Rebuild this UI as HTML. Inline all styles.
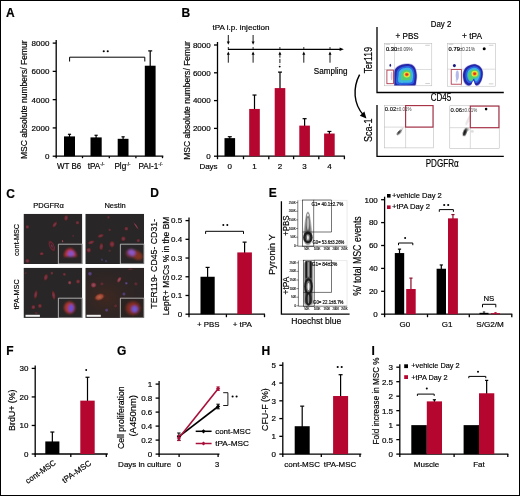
<!DOCTYPE html>
<html><head><meta charset="utf-8"><title>Figure</title>
<style>
html,body{margin:0;padding:0;background:#fff;}
svg{display:block;font-family:"Liberation Sans",sans-serif;}
</style></head><body>
<svg width="520" height="496" viewBox="0 0 520 496">
<defs>
<radialGradient id="blob" cx="0.52" cy="0.42" r="0.55">
<stop offset="0" stop-color="#e8302a"/><stop offset="0.12" stop-color="#f5a020"/><stop offset="0.24" stop-color="#e8e838"/>
<stop offset="0.38" stop-color="#5ed060"/><stop offset="0.55" stop-color="#38b8d0"/><stop offset="0.72" stop-color="#2a58d8"/><stop offset="0.9" stop-color="#2222a8"/><stop offset="1" stop-color="#2a2ab0" stop-opacity="0.6"/>
</radialGradient>
<radialGradient id="cr"><stop offset="0" stop-color="#84487a"/><stop offset="0.5" stop-color="#982a30"/><stop offset="1" stop-color="#601a1c" stop-opacity="0"/></radialGradient>
<radialGradient id="cp"><stop offset="0" stop-color="#a86080"/><stop offset="0.55" stop-color="#983844"/><stop offset="1" stop-color="#602024" stop-opacity="0"/></radialGradient>
<radialGradient id="co"><stop offset="0" stop-color="#c87058"/><stop offset="0.55" stop-color="#b04c34"/><stop offset="1" stop-color="#70281c" stop-opacity="0"/></radialGradient>
<radialGradient id="cb"><stop offset="0" stop-color="#7060b8"/><stop offset="0.55" stop-color="#5c4490"/><stop offset="1" stop-color="#402850" stop-opacity="0"/></radialGradient>
<radialGradient id="cd"><stop offset="0" stop-color="#7a4458"/><stop offset="0.35" stop-color="#4a2030"/><stop offset="0.7" stop-color="#7c2634"/><stop offset="1" stop-color="#601c28" stop-opacity="0"/></radialGradient>
<radialGradient id="bigr"><stop offset="0" stop-color="#c03a48"/><stop offset="0.7" stop-color="#b03040"/><stop offset="1" stop-color="#7a2430" stop-opacity="0.3"/></radialGradient>
<radialGradient id="bigp"><stop offset="0" stop-color="#b04a58"/><stop offset="0.7" stop-color="#a84050"/><stop offset="1" stop-color="#6a2830" stop-opacity="0.2"/></radialGradient>
<radialGradient id="bigo"><stop offset="0" stop-color="#c85a30"/><stop offset="0.7" stop-color="#b84828"/><stop offset="1" stop-color="#7a3018" stop-opacity="0.3"/></radialGradient>
<radialGradient id="nuc"><stop offset="0" stop-color="#7a6ae8"/><stop offset="0.7" stop-color="#6a58d0"/><stop offset="1" stop-color="#6a48a8" stop-opacity="0.5"/></radialGradient>
<radialGradient id="haze" cx="0.35" cy="0.6" r="0.7"><stop offset="0" stop-color="#5a2a18"/><stop offset="1" stop-color="#2a2829" stop-opacity="0"/></radialGradient>
<filter id="noop" x="0" y="0" width="520" height="496" filterUnits="userSpaceOnUse"><feOffset dx="0" dy="0"/></filter>
<filter id="soft" x="-20%" y="-20%" width="140%" height="140%"><feGaussianBlur stdDeviation="0.35"/></filter>
<filter id="soft3" x="-30%" y="-30%" width="160%" height="160%"><feGaussianBlur stdDeviation="0.8"/></filter>
<filter id="soft2" x="-30%" y="-30%" width="160%" height="160%"><feGaussianBlur stdDeviation="0.6"/></filter>
<clipPath id="clip0"><rect x="23.5" y="213.8" width="58.8" height="50.2"/></clipPath><clipPath id="clip1"><rect x="85.3" y="213.8" width="58.8" height="50.2"/></clipPath><clipPath id="clip2"><rect x="23.5" y="267.7" width="58.8" height="50.2"/></clipPath><clipPath id="clip3"><rect x="85.3" y="267.7" width="58.8" height="50.2"/></clipPath>
</defs>
<rect x="0" y="0" width="520" height="496" fill="#fff"/>
<line x1="56.20" y1="40.10" x2="56.20" y2="156.70" stroke="#000" stroke-width="1.3" />
<line x1="52.70" y1="156.20" x2="56.20" y2="156.20" stroke="#000" stroke-width="1.3" />
<line x1="52.70" y1="127.92" x2="56.20" y2="127.92" stroke="#000" stroke-width="1.3" />
<line x1="52.70" y1="99.65" x2="56.20" y2="99.65" stroke="#000" stroke-width="1.3" />
<line x1="52.70" y1="71.38" x2="56.20" y2="71.38" stroke="#000" stroke-width="1.3" />
<line x1="52.70" y1="43.10" x2="56.20" y2="43.10" stroke="#000" stroke-width="1.3" />
<line x1="55.70" y1="156.20" x2="163.30" y2="156.20" stroke="#000" stroke-width="1.3" />
<line x1="56.20" y1="156.20" x2="56.20" y2="158.20" stroke="#000" stroke-width="1.3" />
<line x1="82.50" y1="156.20" x2="82.50" y2="158.20" stroke="#000" stroke-width="1.3" />
<line x1="109.30" y1="156.20" x2="109.30" y2="158.20" stroke="#000" stroke-width="1.3" />
<line x1="135.90" y1="156.20" x2="135.90" y2="158.20" stroke="#000" stroke-width="1.3" />
<line x1="162.50" y1="156.20" x2="162.50" y2="158.20" stroke="#000" stroke-width="1.3" />
<line x1="69.50" y1="134.29" x2="69.50" y2="137.41" stroke="#000" stroke-width="1.2" />
<line x1="67.90" y1="134.29" x2="71.10" y2="134.29" stroke="#000" stroke-width="1.2" />
<rect x="64.00" y="136.41" width="11.00" height="19.79" fill="#000" stroke="none" stroke-width="0" />
<line x1="96.10" y1="135.28" x2="96.10" y2="138.40" stroke="#000" stroke-width="1.2" />
<line x1="94.50" y1="135.28" x2="97.70" y2="135.28" stroke="#000" stroke-width="1.2" />
<rect x="90.50" y="137.40" width="11.20" height="18.80" fill="#000" stroke="none" stroke-width="0" />
<line x1="123.10" y1="136.83" x2="123.10" y2="139.81" stroke="#000" stroke-width="1.2" />
<line x1="121.50" y1="136.83" x2="124.70" y2="136.83" stroke="#000" stroke-width="1.2" />
<rect x="117.70" y="138.81" width="10.80" height="17.39" fill="#000" stroke="none" stroke-width="0" />
<line x1="150.20" y1="50.88" x2="150.20" y2="66.72" stroke="#000" stroke-width="1.2" />
<line x1="148.20" y1="50.88" x2="152.20" y2="50.88" stroke="#000" stroke-width="1.2" />
<rect x="144.80" y="65.72" width="10.80" height="90.48" fill="#000" stroke="none" stroke-width="0" />
<polyline points="69.6,61.5 69.6,57.2 144.8,57.2 144.8,61.5" fill="none" stroke="#000" stroke-width="1" stroke-linejoin="round"/>
<circle cx="103.75" cy="51.20" r="1.05" fill="#000"/>
<circle cx="107.75" cy="51.20" r="1.05" fill="#000"/>
<line x1="217.50" y1="42.00" x2="217.50" y2="156.70" stroke="#000" stroke-width="1.3" />
<line x1="214.00" y1="156.20" x2="217.50" y2="156.20" stroke="#000" stroke-width="1.3" />
<line x1="214.00" y1="128.40" x2="217.50" y2="128.40" stroke="#000" stroke-width="1.3" />
<line x1="214.00" y1="100.60" x2="217.50" y2="100.60" stroke="#000" stroke-width="1.3" />
<line x1="214.00" y1="72.80" x2="217.50" y2="72.80" stroke="#000" stroke-width="1.3" />
<line x1="214.00" y1="45.00" x2="217.50" y2="45.00" stroke="#000" stroke-width="1.3" />
<line x1="217.00" y1="156.20" x2="344.90" y2="156.20" stroke="#000" stroke-width="1.3" />
<line x1="217.50" y1="156.20" x2="217.50" y2="159.20" stroke="#000" stroke-width="1.3" />
<line x1="243.50" y1="156.20" x2="243.50" y2="159.20" stroke="#000" stroke-width="1.3" />
<line x1="268.80" y1="156.20" x2="268.80" y2="159.20" stroke="#000" stroke-width="1.3" />
<line x1="293.60" y1="156.20" x2="293.60" y2="159.20" stroke="#000" stroke-width="1.3" />
<line x1="318.80" y1="156.20" x2="318.80" y2="159.20" stroke="#000" stroke-width="1.3" />
<line x1="344.40" y1="156.20" x2="344.40" y2="159.20" stroke="#000" stroke-width="1.3" />
<line x1="229.80" y1="136.74" x2="229.80" y2="139.13" stroke="#000" stroke-width="1.2" />
<line x1="227.80" y1="136.74" x2="231.80" y2="136.74" stroke="#000" stroke-width="1.2" />
<rect x="224.50" y="138.13" width="10.60" height="18.07" fill="#000" stroke="none" stroke-width="0" />
<line x1="254.50" y1="95.04" x2="254.50" y2="109.94" stroke="#000" stroke-width="1.2" />
<line x1="252.50" y1="95.04" x2="256.50" y2="95.04" stroke="#000" stroke-width="1.2" />
<rect x="249.20" y="108.94" width="10.60" height="47.26" fill="#b5062f" stroke="none" stroke-width="0" />
<line x1="280.00" y1="72.11" x2="280.00" y2="89.09" stroke="#000" stroke-width="1.2" />
<line x1="278.00" y1="72.11" x2="282.00" y2="72.11" stroke="#000" stroke-width="1.2" />
<rect x="274.70" y="88.09" width="10.60" height="68.11" fill="#b5062f" stroke="none" stroke-width="0" />
<line x1="304.60" y1="118.67" x2="304.60" y2="126.62" stroke="#000" stroke-width="1.2" />
<line x1="302.60" y1="118.67" x2="306.60" y2="118.67" stroke="#000" stroke-width="1.2" />
<rect x="299.30" y="125.62" width="10.60" height="30.58" fill="#b5062f" stroke="none" stroke-width="0" />
<line x1="329.40" y1="131.46" x2="329.40" y2="134.54" stroke="#000" stroke-width="1.2" />
<line x1="327.40" y1="131.46" x2="331.40" y2="131.46" stroke="#000" stroke-width="1.2" />
<rect x="324.10" y="133.54" width="10.60" height="22.66" fill="#b5062f" stroke="none" stroke-width="0" />
<line x1="227.90" y1="49.30" x2="341.00" y2="49.30" stroke="#000" stroke-width="1.2" />
<path d="M343.8,49.3 L339.6,47.6 L339.6,51 Z" fill="#000"/>
<line x1="228.30" y1="53.50" x2="228.30" y2="62.70" stroke="#000" stroke-width="0.9" />
<path d="M228.30,51.4 l-1.5,3.4 l3,0 Z" fill="#000"/>
<line x1="228.30" y1="47.00" x2="228.30" y2="49.30" stroke="#000" stroke-width="0.8" />
<line x1="253.10" y1="53.50" x2="253.10" y2="62.70" stroke="#000" stroke-width="0.9" />
<path d="M253.10,51.4 l-1.5,3.4 l3,0 Z" fill="#000"/>
<line x1="253.10" y1="47.00" x2="253.10" y2="49.30" stroke="#000" stroke-width="0.8" />
<line x1="279.90" y1="53.50" x2="279.90" y2="64.60" stroke="#000" stroke-width="0.9" stroke-dasharray="4.2 1.2"/>
<path d="M279.90,51.4 l-1.5,3.4 l3,0 Z" fill="#000"/>
<line x1="279.90" y1="47.00" x2="279.90" y2="49.30" stroke="#000" stroke-width="0.8" />
<line x1="303.80" y1="53.50" x2="303.80" y2="62.70" stroke="#000" stroke-width="0.9" />
<path d="M303.80,51.4 l-1.5,3.4 l3,0 Z" fill="#000"/>
<line x1="303.80" y1="47.00" x2="303.80" y2="49.30" stroke="#000" stroke-width="0.8" />
<line x1="330.00" y1="53.50" x2="330.00" y2="62.70" stroke="#000" stroke-width="0.9" />
<path d="M330.00,51.4 l-1.5,3.4 l3,0 Z" fill="#000"/>
<line x1="330.00" y1="47.00" x2="330.00" y2="49.30" stroke="#000" stroke-width="0.8" />
<line x1="228.30" y1="35.00" x2="228.30" y2="42.00" stroke="#000" stroke-width="0.9" />
<path d="M228.30,44.8 l-1.5,-3.4 l3,0 Z" fill="#000"/>
<line x1="253.10" y1="35.00" x2="253.10" y2="42.00" stroke="#000" stroke-width="0.9" />
<path d="M253.10,44.8 l-1.5,-3.4 l3,0 Z" fill="#000"/>
<circle cx="279.70" cy="66.60" r="0.95" fill="#000"/>
<path d="M359.6,74.6 C352.6,88 353.4,104 363.6,115.2" fill="none" stroke="#000" stroke-width="1.4"/>
<path d="M366.4,118.4 L359.8,115.8 L364.4,111.6 Z" fill="#000"/>
<polyline points="377,27 377,92.5 503.8,92.5" fill="none" stroke="#000" stroke-width="1.3"/>
<polyline points="377,105 377,156.4 503.8,156.4" fill="none" stroke="#000" stroke-width="1.3"/>
<rect x="384.40" y="43.40" width="47.40" height="42.40" fill="#fff" stroke="#b4b4b4" stroke-width="0.5" />
<line x1="394.50" y1="43.40" x2="394.50" y2="85.80" stroke="#bdbdbd" stroke-width="0.5" />
<line x1="384.40" y1="69.50" x2="431.80" y2="69.50" stroke="#bdbdbd" stroke-width="0.5" />
<rect x="425.30" y="44.80" width="4.60" height="0.90" fill="#999" stroke="none" stroke-width="0" opacity="0.5"/>
<rect x="425.30" y="83.00" width="4.60" height="0.90" fill="#999" stroke="none" stroke-width="0" opacity="0.5"/>
<rect x="385.40" y="43.80" width="4.60" height="0.90" fill="#999" stroke="none" stroke-width="0" opacity="0.5"/>
<clipPath id="fc0"><rect x="394.3" y="43.4" width="37.30000000000001" height="42.199999999999996"/></clipPath>
<g clip-path="url(#fc0)"><g filter="url(#soft)">
<path d="M393.23,74.61 C393.35,71.80 393.39,71.31 393.96,69.97 C394.54,68.62 395.43,67.50 396.66,66.54 C397.88,65.58 399.61,64.77 401.30,64.22 C402.99,63.67 405.01,63.26 406.81,63.24 C408.60,63.22 410.58,63.30 412.07,64.10 C413.55,64.89 414.88,66.26 415.73,68.01 C416.59,69.76 417.02,72.49 417.20,74.61 C417.39,76.73 417.24,78.69 416.84,80.73 C416.43,82.77 416.94,85.62 414.76,86.84 C412.58,88.07 407.34,88.07 403.75,88.07 C400.16,88.07 394.98,89.09 393.23,86.84 C391.48,84.60 393.11,77.43 393.23,74.61Z" fill="#5a50c8" opacity="0.35"/>
<path d="M394.00,74.61 C394.11,71.96 394.15,71.50 394.69,70.23 C395.23,68.96 396.08,67.90 397.23,67.00 C398.38,66.10 400.02,65.33 401.61,64.81 C403.21,64.29 405.11,63.90 406.81,63.88 C408.50,63.86 410.36,63.94 411.77,64.69 C413.17,65.44 414.42,66.73 415.23,68.38 C416.04,70.04 416.44,72.61 416.61,74.61 C416.79,76.61 416.65,78.46 416.27,80.38 C415.88,82.31 416.36,85.00 414.31,86.15 C412.25,87.31 407.31,87.31 403.92,87.31 C400.54,87.31 395.65,88.27 394.00,86.15 C392.35,84.04 393.88,77.27 394.00,74.61Z" fill="#2626a8"/>
<path d="M396.56,74.61 C396.65,72.49 396.68,72.12 397.11,71.11 C397.55,70.09 398.22,69.25 399.15,68.52 C400.07,67.80 401.38,67.18 402.65,66.77 C403.93,66.35 405.45,66.05 406.81,66.03 C408.16,66.01 409.65,66.08 410.78,66.68 C411.90,67.28 412.90,68.31 413.54,69.63 C414.19,70.95 414.51,73.01 414.65,74.61 C414.79,76.21 414.68,77.69 414.38,79.23 C414.07,80.77 414.45,82.92 412.81,83.84 C411.16,84.77 407.21,84.77 404.50,84.77 C401.79,84.77 397.88,85.54 396.56,83.84 C395.24,82.15 396.47,76.74 396.56,74.61Z" fill="#2a62e2"/>
<path d="M398.61,74.61 C398.68,72.92 398.71,72.62 399.05,71.81 C399.40,71.00 399.94,70.32 400.68,69.74 C401.42,69.16 402.46,68.67 403.48,68.34 C404.51,68.01 405.72,67.76 406.81,67.75 C407.89,67.73 409.08,67.78 409.98,68.26 C410.88,68.74 411.68,69.57 412.20,70.63 C412.71,71.68 412.97,73.33 413.08,74.61 C413.19,75.89 413.11,77.08 412.86,78.31 C412.62,79.54 412.92,81.26 411.61,82.00 C410.29,82.74 407.13,82.74 404.96,82.74 C402.79,82.74 399.67,83.35 398.61,82.00 C397.55,80.64 398.54,76.31 398.61,74.61Z" fill="#3cb6e0"/>
<path d="M401.17,74.61 C401.22,73.45 401.24,73.24 401.48,72.68 C401.71,72.13 402.09,71.66 402.59,71.26 C403.10,70.87 403.82,70.53 404.52,70.30 C405.22,70.07 406.06,69.90 406.81,69.89 C407.55,69.88 408.37,69.92 408.99,70.25 C409.61,70.58 410.16,71.14 410.51,71.87 C410.87,72.60 411.05,73.73 411.12,74.61 C411.20,75.49 411.14,76.31 410.97,77.15 C410.80,78.00 411.01,79.18 410.11,79.69 C409.20,80.20 407.03,80.20 405.54,80.20 C404.05,80.20 401.90,80.62 401.17,79.69 C400.44,78.76 401.12,75.78 401.17,74.61Z" fill="#52cf6e"/>
<ellipse cx="406.81" cy="74.61" rx="3.19" ry="2.90" fill="#e6e83c"/>
<ellipse cx="406.81" cy="74.61" rx="2.20" ry="2.00" fill="#f2a024"/>
<ellipse cx="406.81" cy="74.61" rx="1.38" ry="1.25" fill="#e23022"/>
</g></g>
<ellipse cx="390.3" cy="65.2" rx="0.8" ry="1.5" fill="#1a1a80"/>
<ellipse cx="391.6" cy="76" rx="0.9" ry="4.2" fill="#a080d0" opacity="0.5" filter="url(#soft)"/>
<rect x="386.90" y="70.10" width="6.60" height="13.60" fill="none" stroke="#a8283c" stroke-width="0.8" />
<rect x="447.60" y="43.40" width="47.70" height="42.80" fill="#fff" stroke="#b4b4b4" stroke-width="0.5" />
<line x1="461.30" y1="43.40" x2="461.30" y2="86.20" stroke="#bdbdbd" stroke-width="0.5" />
<line x1="447.60" y1="69.20" x2="495.30" y2="69.20" stroke="#bdbdbd" stroke-width="0.5" />
<rect x="488.80" y="44.80" width="4.60" height="0.90" fill="#999" stroke="none" stroke-width="0" opacity="0.5"/>
<rect x="488.80" y="83.40" width="4.60" height="0.90" fill="#999" stroke="none" stroke-width="0" opacity="0.5"/>
<rect x="448.60" y="43.80" width="4.60" height="0.90" fill="#999" stroke="none" stroke-width="0" opacity="0.5"/>
<clipPath id="fc1"><rect x="447.6" y="43.4" width="47.69999999999999" height="42.6"/></clipPath>
<g clip-path="url(#fc1)"><g filter="url(#soft)">
<path d="M462.34,74.67 C462.48,72.39 463.40,70.10 464.42,68.55 C465.44,67.01 466.86,66.17 468.45,65.37 C470.04,64.58 472.18,63.78 473.96,63.78 C475.73,63.78 477.67,64.42 479.09,65.37 C480.52,66.33 481.83,67.98 482.52,69.53 C483.21,71.08 483.33,72.88 483.25,74.67 C483.17,76.46 482.72,78.54 482.03,80.30 C481.34,82.05 480.15,84.29 479.09,85.19 C478.03,86.08 476.65,86.41 475.67,85.68 C474.69,84.94 474.00,80.87 473.22,80.78 C472.45,80.70 472.02,84.31 471.02,85.19 C470.02,86.06 468.47,86.53 467.23,86.04 C465.99,85.55 464.38,84.15 463.56,82.25 C462.75,80.36 462.20,76.95 462.34,74.67Z" fill="#5a50c8" opacity="0.35"/>
<path d="M463.04,74.61 C463.17,72.46 464.04,70.31 465.00,68.85 C465.96,67.38 467.31,66.60 468.81,65.85 C470.31,65.10 472.33,64.35 474.00,64.35 C475.67,64.35 477.50,64.94 478.84,65.85 C480.19,66.75 481.42,68.31 482.08,69.77 C482.73,71.23 482.84,72.92 482.77,74.61 C482.69,76.31 482.27,78.27 481.61,79.92 C480.96,81.58 479.84,83.69 478.84,84.54 C477.84,85.38 476.54,85.69 475.61,85.00 C474.69,84.31 474.04,80.46 473.31,80.38 C472.58,80.31 472.17,83.71 471.23,84.54 C470.29,85.36 468.83,85.81 467.65,85.34 C466.48,84.88 464.96,83.56 464.19,81.77 C463.42,79.98 462.90,76.77 463.04,74.61Z" fill="#2626a8"/>
<path d="M465.37,74.43 C465.48,72.71 466.17,70.98 466.94,69.81 C467.71,68.65 468.78,68.01 469.98,67.41 C471.18,66.81 472.80,66.21 474.14,66.21 C475.48,66.21 476.94,66.69 478.01,67.41 C479.09,68.14 480.08,69.38 480.60,70.55 C481.12,71.72 481.21,73.08 481.15,74.43 C481.09,75.78 480.75,77.35 480.23,78.68 C479.71,80.00 478.81,81.69 478.01,82.37 C477.21,83.04 476.17,83.29 475.43,82.74 C474.69,82.18 474.17,79.11 473.58,79.04 C473.00,78.98 472.68,81.71 471.92,82.37 C471.17,83.03 470.00,83.38 469.06,83.01 C468.12,82.64 466.91,81.58 466.29,80.15 C465.68,78.72 465.26,76.15 465.37,74.43Z" fill="#2a62e2"/>
<path d="M467.23,74.28 C467.32,72.90 467.87,71.52 468.49,70.59 C469.10,69.65 469.97,69.15 470.93,68.67 C471.89,68.19 473.18,67.71 474.25,67.71 C475.32,67.71 476.49,68.09 477.35,68.67 C478.21,69.25 479.00,70.24 479.42,71.18 C479.84,72.12 479.91,73.20 479.86,74.28 C479.81,75.36 479.54,76.62 479.12,77.68 C478.70,78.74 477.99,80.09 477.35,80.63 C476.71,81.17 475.87,81.37 475.28,80.93 C474.69,80.48 474.27,78.02 473.81,77.97 C473.34,77.92 473.08,80.10 472.48,80.63 C471.87,81.16 470.94,81.44 470.19,81.15 C469.44,80.85 468.46,80.00 467.97,78.86 C467.48,77.72 467.15,75.66 467.23,74.28Z" fill="#3cb6e0"/>
<path d="M468.69,78.08 C468.42,77.08 467.73,75.81 468.00,74.61 C468.27,73.42 469.27,71.77 470.31,70.92 C471.35,70.08 472.92,69.50 474.23,69.54 C475.54,69.58 477.34,70.34 478.15,71.15 C478.96,71.96 479.19,73.34 479.08,74.38 C478.96,75.42 478.27,76.73 477.46,77.38 C476.65,78.04 475.19,77.81 474.23,78.31 C473.27,78.81 472.46,80.00 471.69,80.38 C470.92,80.77 470.11,81.00 469.61,80.61 C469.11,80.23 468.96,79.08 468.69,78.08Z" fill="#52cf6e"/>
<ellipse cx="474.69" cy="73.69" rx="3.19" ry="2.90" fill="#e6e83c"/>
<ellipse cx="474.69" cy="73.69" rx="2.20" ry="2.00" fill="#f2a024"/>
<ellipse cx="474.69" cy="73.69" rx="1.38" ry="1.25" fill="#e23022"/>
</g></g>
<ellipse cx="454.4" cy="65.6" rx="1.5" ry="1.6" fill="#1a1a80"/>
<ellipse cx="457.3" cy="75.2" rx="1.6" ry="4.8" fill="#6a78d8" opacity="0.5" filter="url(#soft)"/>
<ellipse cx="456.6" cy="80.5" rx="1.0" ry="2.0" fill="#8a88d8" opacity="0.35" filter="url(#soft)"/>
<rect x="451.20" y="69.60" width="10.20" height="14.60" fill="none" stroke="#a8283c" stroke-width="0.8" />
<circle cx="484.2" cy="48.7" r="1.5" fill="#000"/>
<rect x="384.30" y="105.30" width="49.00" height="42.60" fill="#fff" stroke="#b0b0b0" stroke-width="0.5" />
<line x1="405.60" y1="105.30" x2="405.60" y2="147.90" stroke="#b4b4b4" stroke-width="0.5" />
<line x1="384.30" y1="127.10" x2="433.30" y2="127.10" stroke="#b4b4b4" stroke-width="0.5" />
<ellipse cx="399.3" cy="132.3" rx="1.3" ry="3.6" fill="#444" opacity="0.75" transform="rotate(42 399.3 132.3)" filter="url(#soft2)"/>
<ellipse cx="399.0" cy="132.60000000000002" rx="0.8" ry="2.0" fill="#222" opacity="0.7" transform="rotate(42 399.3 132.3)" filter="url(#soft)"/>
<ellipse cx="402.3" cy="128.9" rx="0.7" ry="1.2" fill="#666" opacity="0.4" transform="rotate(42 402.3 128.9)" filter="url(#soft)"/>
<rect x="405.60" y="105.60" width="27.40" height="21.50" fill="none" stroke="#a62a40" stroke-width="1.1" />
<rect x="449.80" y="105.80" width="49.40" height="42.70" fill="#fff" stroke="#b0b0b0" stroke-width="0.5" />
<line x1="470.30" y1="105.80" x2="470.30" y2="148.50" stroke="#b4b4b4" stroke-width="0.5" />
<line x1="449.80" y1="127.70" x2="499.20" y2="127.70" stroke="#b4b4b4" stroke-width="0.5" />
<ellipse cx="465.2" cy="131.9" rx="1.8" ry="4.4" fill="#3a3a3a" opacity="0.8" transform="rotate(22 464.8 131.9)" filter="url(#soft2)"/>
<ellipse cx="464.8" cy="132.20000000000002" rx="1.1" ry="3.0" fill="#111" opacity="0.85" transform="rotate(18 464.8 131.9)" filter="url(#soft)"/>
<ellipse cx="468.2" cy="129.3" rx="1.2" ry="1.8" fill="#777" opacity="0.35" filter="url(#soft2)"/>
<ellipse cx="472.3" cy="131.4" rx="1.6" ry="1.4" fill="#999" opacity="0.3" filter="url(#soft2)"/>
<ellipse cx="468.3" cy="119.9" rx="1.4" ry="6" fill="#aaa" opacity="0.3" transform="rotate(25 468.3 119.9)" filter="url(#soft2)"/>
<rect x="470.30" y="106.10" width="28.60" height="21.60" fill="none" stroke="#a62a40" stroke-width="1.1" />
<circle cx="486.1" cy="109.1" r="1.3" fill="#000"/>
<g clip-path="url(#clip0)">
<rect x="23.50" y="213.80" width="58.80" height="50.20" fill="#282627" stroke="none" stroke-width="0" />
<g filter="url(#soft2)">
<ellipse cx="66.12" cy="217.96" rx="2.50" ry="3.58" fill="url(#cr)" opacity="0.68" transform="rotate(10 66.12 217.96)"/>
<ellipse cx="54.79" cy="224.52" rx="2.15" ry="4.11" fill="url(#cr)" opacity="0.68" transform="rotate(35 54.79 224.52)"/>
<ellipse cx="77.44" cy="222.73" rx="2.33" ry="2.33" fill="url(#cr)" opacity="0.595" transform="rotate(0 77.44 222.73)"/>
<ellipse cx="27.37" cy="226.90" rx="2.15" ry="2.33" fill="url(#cr)" opacity="0.6375" transform="rotate(0 27.37 226.90)"/>
<ellipse cx="51.81" cy="245.98" rx="3.04" ry="6.44" fill="url(#cd)" opacity="0.8075" transform="rotate(-25 51.81 245.98)"/>
<ellipse cx="62.54" cy="241.21" rx="1.25" ry="1.61" fill="url(#cp)" opacity="0.765" transform="rotate(-20 62.54 241.21)"/>
<ellipse cx="41.67" cy="253.73" rx="2.68" ry="1.97" fill="url(#cr)" opacity="0.68" transform="rotate(-10 41.67 253.73)"/>
<ellipse cx="27.37" cy="260.89" rx="2.68" ry="2.68" fill="url(#cr)" opacity="0.6375" transform="rotate(0 27.37 260.89)"/>
<ellipse cx="73.27" cy="235.85" rx="1.43" ry="1.43" fill="url(#cr)" opacity="0.34" transform="rotate(0 73.27 235.85)"/>
</g></g>
<clipPath id="ic0"><rect x="58.37" y="244.19" width="23.93" height="19.81"/></clipPath>
<rect x="58.37" y="244.19" width="23.93" height="19.81" fill="#282627" stroke="none" stroke-width="0" />
<g clip-path="url(#ic0)" filter="url(#soft3)">
<path d="M64.09,256.74 C63.79,250.14 68.29,246.94 71.79,248.54 C75.29,250.74 77.29,254.94 76.69,256.74 Z" fill="#b8302c"/>
<ellipse cx="70.89" cy="253.74" rx="3.4" ry="2.9" fill="#8652c8"/>
</g>
<polyline points="58.37,264.00 58.37,244.19 82.30,244.19" fill="none" stroke="#d0d0d0" stroke-width="0.8"/>
<polyline points="58.37,263.70 82.00,263.70 82.00,244.19" fill="none" stroke="#bbb" stroke-width="0.6"/>
<g clip-path="url(#clip1)">
<rect x="85.30" y="213.80" width="58.80" height="50.20" fill="#282627" stroke="none" stroke-width="0" />
<g filter="url(#soft2)">
<ellipse cx="108.44" cy="217.37" rx="1.79" ry="1.97" fill="url(#cr)" opacity="0.425" transform="rotate(0 108.44 217.37)"/>
<ellipse cx="136.10" cy="225.95" rx="1.07" ry="5.01" fill="url(#cp)" opacity="0.6375" transform="rotate(-35 136.10 225.95)"/>
<ellipse cx="126.33" cy="228.69" rx="2.50" ry="2.50" fill="url(#cr)" opacity="0.6375" transform="rotate(0 126.33 228.69)"/>
<ellipse cx="109.63" cy="229.88" rx="1.79" ry="1.97" fill="url(#cr)" opacity="0.425" transform="rotate(0 109.63 229.88)"/>
<ellipse cx="100.69" cy="235.85" rx="3.76" ry="2.15" fill="url(#cr)" opacity="0.68" transform="rotate(-20 100.69 235.85)"/>
<ellipse cx="123.35" cy="238.83" rx="2.86" ry="3.04" fill="url(#cr)" opacity="0.68" transform="rotate(0 123.35 238.83)"/>
<ellipse cx="138.25" cy="240.62" rx="2.15" ry="2.15" fill="url(#cr)" opacity="0.595" transform="rotate(0 138.25 240.62)"/>
<ellipse cx="91.15" cy="242.40" rx="4.11" ry="2.15" fill="url(#cr)" opacity="0.68" transform="rotate(-20 91.15 242.40)"/>
<ellipse cx="112.02" cy="244.19" rx="3.22" ry="3.93" fill="url(#cr)" opacity="0.7224999999999999" transform="rotate(0 112.02 244.19)"/>
<ellipse cx="101.29" cy="246.58" rx="2.50" ry="4.47" fill="url(#cr)" opacity="0.68" transform="rotate(5 101.29 246.58)"/>
<ellipse cx="88.77" cy="250.15" rx="2.86" ry="2.86" fill="url(#cr)" opacity="0.7224999999999999" transform="rotate(0 88.77 250.15)"/>
<ellipse cx="109.63" cy="250.75" rx="1.79" ry="1.79" fill="url(#cr)" opacity="0.34" transform="rotate(0 109.63 250.75)"/>
<ellipse cx="101.88" cy="259.69" rx="1.79" ry="1.79" fill="url(#cb)" opacity="0.3825" transform="rotate(0 101.88 259.69)"/>
<ellipse cx="106.06" cy="261.12" rx="1.79" ry="1.79" fill="url(#cb)" opacity="0.3825" transform="rotate(0 106.06 261.12)"/>
</g></g>
<clipPath id="ic1"><rect x="120.37" y="244.19" width="23.73" height="19.81"/></clipPath>
<rect x="120.37" y="244.19" width="23.73" height="19.81" fill="#282627" stroke="none" stroke-width="0" />
<g clip-path="url(#ic1)" filter="url(#soft3)">
<ellipse cx="136.69" cy="255.04" rx="6.5" ry="4.2" fill="#8a3420" opacity="0.9" transform="rotate(30 136.69 255.04)"/>
<ellipse cx="131.19" cy="253.04" rx="5.4" ry="4.4" fill="#8a3440" opacity="0.8"/>
<ellipse cx="131.69" cy="252.54" rx="3.6" ry="2.9" fill="#8858c8" transform="rotate(25 131.69 252.54)"/>
</g>
<polyline points="120.37,264.00 120.37,244.19 144.10,244.19" fill="none" stroke="#d0d0d0" stroke-width="0.8"/>
<polyline points="120.37,263.70 143.80,263.70 143.80,244.19" fill="none" stroke="#bbb" stroke-width="0.6"/>
<g clip-path="url(#clip2)">
<rect x="23.50" y="267.70" width="58.80" height="50.20" fill="#282627" stroke="none" stroke-width="0" />
<g filter="url(#soft2)">
<ellipse cx="45.85" cy="277.33" rx="2.50" ry="4.11" fill="url(#cr)" opacity="0.7224999999999999" transform="rotate(15 45.85 277.33)"/>
<ellipse cx="51.81" cy="273.15" rx="1.79" ry="1.97" fill="url(#cr)" opacity="0.595" transform="rotate(0 51.81 273.15)"/>
<ellipse cx="64.33" cy="274.35" rx="1.97" ry="1.97" fill="url(#cr)" opacity="0.595" transform="rotate(0 64.33 274.35)"/>
<ellipse cx="69.69" cy="282.69" rx="2.15" ry="2.33" fill="url(#cp)" opacity="0.7224999999999999" transform="rotate(0 69.69 282.69)"/>
<ellipse cx="78.04" cy="281.50" rx="2.50" ry="2.68" fill="url(#cr)" opacity="0.68" transform="rotate(0 78.04 281.50)"/>
<ellipse cx="35.71" cy="294.62" rx="2.15" ry="5.19" fill="url(#cr)" opacity="0.7224999999999999" transform="rotate(10 35.71 294.62)"/>
<ellipse cx="53.60" cy="295.21" rx="2.15" ry="5.54" fill="url(#cr)" opacity="0.7224999999999999" transform="rotate(-10 53.60 295.21)"/>
<ellipse cx="33.33" cy="307.14" rx="2.50" ry="2.68" fill="url(#cr)" opacity="0.7224999999999999" transform="rotate(0 33.33 307.14)"/>
<ellipse cx="39.88" cy="305.94" rx="2.50" ry="2.68" fill="url(#cr)" opacity="0.68" transform="rotate(0 39.88 305.94)"/>
<ellipse cx="36.31" cy="313.10" rx="2.15" ry="1.61" fill="url(#cr)" opacity="0.34" transform="rotate(0 36.31 313.10)"/>
<ellipse cx="25.58" cy="273.15" rx="1.61" ry="1.61" fill="url(#cr)" opacity="0.2975" transform="rotate(0 25.58 273.15)"/>
</g></g>
<clipPath id="ic2"><rect x="58.37" y="298.19" width="23.93" height="19.71"/></clipPath>
<rect x="58.37" y="298.19" width="23.93" height="19.71" fill="#282627" stroke="none" stroke-width="0" />
<g clip-path="url(#ic2)" filter="url(#soft3)">
<ellipse cx="69.69" cy="307.73" rx="5.6" ry="6.2" fill="#a03428" />
<ellipse cx="68.69" cy="307.73" rx="4" ry="5" fill="#b03a30" opacity="0.8"/>
<ellipse cx="71.09" cy="308.13" rx="2.5" ry="3.8" fill="#6a50d8" transform="rotate(12 71.09 308.13)"/>
</g>
<polyline points="58.37,317.90 58.37,298.19 82.30,298.19" fill="none" stroke="#d0d0d0" stroke-width="0.8"/>
<polyline points="58.37,317.60 82.00,317.60 82.00,298.19" fill="none" stroke="#bbb" stroke-width="0.6"/>
<g clip-path="url(#clip3)">
<rect x="85.30" y="267.70" width="58.80" height="50.20" fill="#2b2525" stroke="none" stroke-width="0" />
<rect x="85.3" y="267.7" width="58.8" height="50.2" fill="url(#haze)" opacity="0.45"/>
<g filter="url(#soft2)">
<ellipse cx="89.96" cy="273.75" rx="2.50" ry="2.50" fill="url(#cb)" opacity="0.68" transform="rotate(0 89.96 273.75)"/>
<ellipse cx="93.54" cy="285.08" rx="3.40" ry="3.22" fill="url(#cp)" opacity="0.8075" transform="rotate(0 93.54 285.08)"/>
<ellipse cx="101.88" cy="283.88" rx="2.15" ry="2.15" fill="url(#cr)" opacity="0.425" transform="rotate(0 101.88 283.88)"/>
<ellipse cx="119.17" cy="279.71" rx="2.15" ry="3.76" fill="url(#cp)" opacity="0.8075" transform="rotate(30 119.17 279.71)"/>
<ellipse cx="126.33" cy="283.29" rx="1.79" ry="1.79" fill="url(#cb)" opacity="0.68" transform="rotate(0 126.33 283.29)"/>
<ellipse cx="135.87" cy="283.88" rx="2.33" ry="2.33" fill="url(#cr)" opacity="0.425" transform="rotate(0 135.87 283.88)"/>
<ellipse cx="123.94" cy="294.02" rx="2.15" ry="2.15" fill="url(#cb)" opacity="0.595" transform="rotate(0 123.94 294.02)"/>
<ellipse cx="99.50" cy="297.00" rx="5.90" ry="3.93" fill="url(#co)" opacity="0.85" transform="rotate(-20 99.50 297.00)"/>
<ellipse cx="115.60" cy="305.94" rx="2.15" ry="2.15" fill="url(#cr)" opacity="0.3825" transform="rotate(0 115.60 305.94)"/>
<ellipse cx="106.65" cy="310.12" rx="2.15" ry="2.15" fill="url(#cb)" opacity="0.595" transform="rotate(0 106.65 310.12)"/>
<ellipse cx="130.50" cy="269.34" rx="3.58" ry="1.43" fill="url(#cr)" opacity="0.34" transform="rotate(0 130.50 269.34)"/>
<ellipse cx="141.23" cy="305.35" rx="1.79" ry="2.15" fill="url(#cr)" opacity="0.34" transform="rotate(0 141.23 305.35)"/>
</g></g>
<clipPath id="ic3"><rect x="120.37" y="298.19" width="23.73" height="19.71"/></clipPath>
<rect x="120.37" y="298.19" width="23.73" height="19.71" fill="#2a2322" stroke="none" stroke-width="0" />
<g clip-path="url(#ic3)" filter="url(#soft3)">
<ellipse cx="133.08" cy="308.19" rx="7.5" ry="7" fill="#7a2a22" opacity="0.85"/>
<ellipse cx="133.08" cy="308.19" rx="5" ry="5" fill="#8e3028" opacity="0.9"/>
<ellipse cx="134.68" cy="309.09" rx="3.1" ry="3.1" fill="#6e58d8"/>
</g>
<polyline points="120.37,317.90 120.37,298.19 144.10,298.19" fill="none" stroke="#d0d0d0" stroke-width="0.8"/>
<polyline points="120.37,317.60 143.80,317.60 143.80,298.19" fill="none" stroke="#bbb" stroke-width="0.6"/>
<rect x="25.50" y="314.80" width="14.40" height="2.00" fill="#f2f2f2" stroke="none" stroke-width="0" />
<rect x="86.60" y="314.80" width="14.20" height="2.00" fill="#f2f2f2" stroke="none" stroke-width="0" />
<line x1="189.00" y1="217.60" x2="189.00" y2="314.70" stroke="#000" stroke-width="1.3" />
<line x1="185.50" y1="314.20" x2="189.00" y2="314.20" stroke="#000" stroke-width="1.3" />
<line x1="185.50" y1="295.48" x2="189.00" y2="295.48" stroke="#000" stroke-width="1.3" />
<line x1="185.50" y1="276.76" x2="189.00" y2="276.76" stroke="#000" stroke-width="1.3" />
<line x1="185.50" y1="258.04" x2="189.00" y2="258.04" stroke="#000" stroke-width="1.3" />
<line x1="185.50" y1="239.32" x2="189.00" y2="239.32" stroke="#000" stroke-width="1.3" />
<line x1="185.50" y1="220.60" x2="189.00" y2="220.60" stroke="#000" stroke-width="1.3" />
<line x1="188.50" y1="314.20" x2="265.00" y2="314.20" stroke="#000" stroke-width="1.3" />
<line x1="189.00" y1="314.20" x2="189.00" y2="317.20" stroke="#000" stroke-width="1.3" />
<line x1="226.40" y1="314.20" x2="226.40" y2="317.20" stroke="#000" stroke-width="1.3" />
<line x1="264.50" y1="314.20" x2="264.50" y2="317.20" stroke="#000" stroke-width="1.3" />
<line x1="207.60" y1="267.40" x2="207.60" y2="277.76" stroke="#000" stroke-width="1.2" />
<line x1="205.60" y1="267.40" x2="209.60" y2="267.40" stroke="#000" stroke-width="1.2" />
<rect x="200.50" y="276.76" width="14.20" height="37.44" fill="#000" stroke="none" stroke-width="0" />
<line x1="244.60" y1="242.13" x2="244.60" y2="253.42" stroke="#000" stroke-width="1.2" />
<line x1="242.60" y1="242.13" x2="246.60" y2="242.13" stroke="#000" stroke-width="1.2" />
<rect x="237.30" y="252.42" width="14.60" height="61.78" fill="#b5062f" stroke="none" stroke-width="0" />
<polyline points="205.60,233.90 205.60,231.30 243.50,231.30 243.50,233.90" fill="none" stroke="#000" stroke-width="1.0" stroke-linejoin="round"/>
<circle cx="223.30" cy="225.00" r="1.0" fill="#000"/>
<circle cx="227.30" cy="225.00" r="1.0" fill="#000"/>
<polyline points="281.4,201.3 281.4,314.2 349.6,314.2" fill="none" stroke="#000" stroke-width="1.3"/>
<polyline points="297.8,200.4 347.1,200.4 347.1,246.2" fill="none" stroke="#ccc" stroke-width="0.4"/>
<line x1="297.80" y1="200.40" x2="297.80" y2="246.20" stroke="#222" stroke-width="0.6" />
<line x1="297.80" y1="246.20" x2="347.10" y2="246.20" stroke="#222" stroke-width="0.6" />
<line x1="295.80" y1="202.60" x2="297.80" y2="202.60" stroke="#111" stroke-width="0.5" />
<line x1="295.80" y1="211.24" x2="297.80" y2="211.24" stroke="#111" stroke-width="0.5" />
<line x1="295.80" y1="219.88" x2="297.80" y2="219.88" stroke="#111" stroke-width="0.5" />
<line x1="295.80" y1="228.52" x2="297.80" y2="228.52" stroke="#111" stroke-width="0.5" />
<line x1="295.80" y1="237.16" x2="297.80" y2="237.16" stroke="#111" stroke-width="0.5" />
<line x1="295.80" y1="245.80" x2="297.80" y2="245.80" stroke="#111" stroke-width="0.5" />
<line x1="306.80" y1="246.20" x2="306.80" y2="247.40" stroke="#111" stroke-width="0.5" />
<line x1="317.10" y1="246.20" x2="317.10" y2="247.40" stroke="#111" stroke-width="0.5" />
<line x1="326.90" y1="246.20" x2="326.90" y2="247.40" stroke="#111" stroke-width="0.5" />
<line x1="335.80" y1="246.20" x2="335.80" y2="247.40" stroke="#111" stroke-width="0.5" />
<line x1="344.30" y1="246.20" x2="344.30" y2="247.40" stroke="#111" stroke-width="0.5" />
<path d="M307.9,211.6 C309.65,211.6 310.65,217.6 311.9,227.6 C313.15,236.2 313.4,245.2 307.9,245.2 C302.4,245.2 302.65,236.2 303.9,227.6 C305.15,217.6 306.15,211.6 307.9,211.6Z" fill="#9a9a9a" opacity="0.55"/>
<path d="M307.9,212.2 C309.29999999999995,212.2 310.09999999999997,218.2 311.09999999999997,228.2 C312.09999999999997,235.6 312.29999999999995,244.6 307.9,244.6 C303.5,244.6 303.7,235.6 304.7,228.2 C305.7,218.2 306.5,212.2 307.9,212.2Z" fill="#6e6e6e" opacity="0.7"/>
<path d="M307.9,213.0 C308.81,213.0 309.33,219.0 309.97999999999996,229.0 C310.63,234 310.76,243 307.9,243 C305.03999999999996,243 305.16999999999996,234 305.82,229.0 C306.46999999999997,219.0 306.98999999999995,213.0 307.9,213.0Z" fill="#4a4a4a" opacity="0.6"/>
<ellipse cx="307.9" cy="223.5" rx="1.2" ry="6.5" fill="#c8c8c8" opacity="0.85"/>
<ellipse cx="307.9" cy="215" rx="1.15" ry="1.9" fill="#fff" stroke="#444" stroke-width="0.45"/>
<ellipse cx="307.9" cy="237.4" rx="4.7" ry="5.8" fill="#151515" opacity="0.92"/>
<ellipse cx="307.9" cy="237.6" rx="2.3" ry="3.6" fill="#6a6a6a"/>
<ellipse cx="307.9" cy="237.6" rx="0.9" ry="2.5" fill="#eaeaea"/>
<rect x="302.50" y="200.00" width="11.30" height="46.20" fill="none" stroke="#1a1a1a" stroke-width="0.6" />
<line x1="302.50" y1="232.00" x2="331.50" y2="232.00" stroke="#1a1a1a" stroke-width="0.6" />
<polyline points="313.8,200.0 331.5,200.0 331.5,232" fill="none" stroke="#1a1a1a" stroke-width="0.6"/>
<polyline points="298.4,260.6 347.1,260.6 347.1,306.2" fill="none" stroke="#ccc" stroke-width="0.4"/>
<line x1="298.40" y1="260.60" x2="298.40" y2="306.20" stroke="#222" stroke-width="0.6" />
<line x1="298.40" y1="306.20" x2="347.10" y2="306.20" stroke="#222" stroke-width="0.6" />
<line x1="296.40" y1="262.80" x2="298.40" y2="262.80" stroke="#111" stroke-width="0.5" />
<line x1="296.40" y1="271.40" x2="298.40" y2="271.40" stroke="#111" stroke-width="0.5" />
<line x1="296.40" y1="280.00" x2="298.40" y2="280.00" stroke="#111" stroke-width="0.5" />
<line x1="296.40" y1="288.60" x2="298.40" y2="288.60" stroke="#111" stroke-width="0.5" />
<line x1="296.40" y1="297.20" x2="298.40" y2="297.20" stroke="#111" stroke-width="0.5" />
<line x1="296.40" y1="305.80" x2="298.40" y2="305.80" stroke="#111" stroke-width="0.5" />
<line x1="306.80" y1="306.20" x2="306.80" y2="307.40" stroke="#111" stroke-width="0.5" />
<line x1="317.10" y1="306.20" x2="317.10" y2="307.40" stroke="#111" stroke-width="0.5" />
<line x1="326.90" y1="306.20" x2="326.90" y2="307.40" stroke="#111" stroke-width="0.5" />
<line x1="335.80" y1="306.20" x2="335.80" y2="307.40" stroke="#111" stroke-width="0.5" />
<line x1="344.30" y1="306.20" x2="344.30" y2="307.40" stroke="#111" stroke-width="0.5" />
<rect x="303.7" y="260.90000000000003" width="9.6" height="44.49999999999994" rx="3.5" fill="#8a8a8a" opacity="0.7"/>
<rect x="304.8" y="260.90000000000003" width="7.4" height="43.49999999999994" rx="3" fill="#444" opacity="0.85"/>
<rect x="305.5" y="260.90000000000003" width="1.5" height="17" rx="0.7" fill="#111" opacity="0.85"/>
<rect x="310.0" y="260.90000000000003" width="1.5" height="17" rx="0.7" fill="#111" opacity="0.85"/>
<rect x="307.7" y="261.90000000000003" width="1.6" height="15" rx="0.8" fill="#aaa" opacity="0.8"/>
<ellipse cx="308.5" cy="286.4" rx="4.3" ry="8.2" fill="#151515" opacity="0.92"/>
<ellipse cx="308.5" cy="286.4" rx="2.2" ry="6" fill="#777"/>
<ellipse cx="308.5" cy="286.6" rx="0.95" ry="3.6" fill="#f0f0f0"/>
<ellipse cx="308.5" cy="299" rx="3.2" ry="6.8" fill="#1c1c1c" opacity="0.9"/>
<ellipse cx="308.5" cy="299" rx="0.8" ry="4.6" fill="#999" opacity="0.9"/>
<rect x="303.30" y="260.20" width="10.90" height="46.00" fill="none" stroke="#1a1a1a" stroke-width="0.6" />
<line x1="303.30" y1="292.40" x2="331.50" y2="292.40" stroke="#1a1a1a" stroke-width="0.6" />
<polyline points="314.2,260.20000000000005 331.5,260.20000000000005 331.5,292.4" fill="none" stroke="#1a1a1a" stroke-width="0.6"/>
<line x1="384.60" y1="196.70" x2="384.60" y2="314.70" stroke="#000" stroke-width="1.3" />
<line x1="381.10" y1="314.20" x2="384.60" y2="314.20" stroke="#000" stroke-width="1.3" />
<line x1="381.10" y1="291.30" x2="384.60" y2="291.30" stroke="#000" stroke-width="1.3" />
<line x1="381.10" y1="268.40" x2="384.60" y2="268.40" stroke="#000" stroke-width="1.3" />
<line x1="381.10" y1="245.50" x2="384.60" y2="245.50" stroke="#000" stroke-width="1.3" />
<line x1="381.10" y1="222.60" x2="384.60" y2="222.60" stroke="#000" stroke-width="1.3" />
<line x1="381.10" y1="199.70" x2="384.60" y2="199.70" stroke="#000" stroke-width="1.3" />
<line x1="384.10" y1="314.20" x2="512.30" y2="314.20" stroke="#000" stroke-width="1.3" />
<line x1="384.60" y1="314.20" x2="384.60" y2="317.20" stroke="#000" stroke-width="1.3" />
<line x1="427.50" y1="314.20" x2="427.50" y2="317.20" stroke="#000" stroke-width="1.3" />
<line x1="469.30" y1="314.20" x2="469.30" y2="317.20" stroke="#000" stroke-width="1.3" />
<line x1="511.80" y1="314.20" x2="511.80" y2="317.20" stroke="#000" stroke-width="1.3" />
<line x1="399.50" y1="249.16" x2="399.50" y2="254.06" stroke="#000" stroke-width="1.2" />
<line x1="397.90" y1="249.16" x2="401.10" y2="249.16" stroke="#000" stroke-width="1.2" />
<rect x="394.80" y="253.06" width="9.40" height="61.14" fill="#000" stroke="none" stroke-width="0" />
<line x1="410.95" y1="278.13" x2="410.95" y2="290.01" stroke="#8a0a26" stroke-width="1.2" />
<line x1="409.35" y1="278.13" x2="412.55" y2="278.13" stroke="#8a0a26" stroke-width="1.2" />
<rect x="406.20" y="289.01" width="9.50" height="25.19" fill="#b5062f" stroke="none" stroke-width="0" />
<line x1="441.30" y1="264.96" x2="441.30" y2="269.74" stroke="#000" stroke-width="1.2" />
<line x1="439.70" y1="264.96" x2="442.90" y2="264.96" stroke="#000" stroke-width="1.2" />
<rect x="436.60" y="268.74" width="9.40" height="45.46" fill="#000" stroke="none" stroke-width="0" />
<line x1="452.95" y1="214.58" x2="452.95" y2="219.36" stroke="#8a0a26" stroke-width="1.2" />
<line x1="451.35" y1="214.58" x2="454.55" y2="214.58" stroke="#8a0a26" stroke-width="1.2" />
<rect x="448.00" y="218.36" width="9.90" height="95.84" fill="#b5062f" stroke="none" stroke-width="0" />
<line x1="484.00" y1="311.91" x2="484.00" y2="313.83" stroke="#000" stroke-width="0.8" />
<line x1="482.80" y1="311.91" x2="485.20" y2="311.91" stroke="#000" stroke-width="0.8" />
<rect x="479.50" y="312.83" width="9.00" height="1.37" fill="#000" stroke="none" stroke-width="0" />
<line x1="495.50" y1="312.48" x2="495.50" y2="314.17" stroke="#b5062f" stroke-width="0.8" />
<line x1="494.30" y1="312.48" x2="496.70" y2="312.48" stroke="#b5062f" stroke-width="0.8" />
<rect x="491.00" y="313.17" width="9.00" height="1.03" fill="#b5062f" stroke="none" stroke-width="0" />
<polyline points="398.50,245.20 398.50,243.00 412.80,243.00 412.80,245.20" fill="none" stroke="#000" stroke-width="1.0" stroke-linejoin="round"/>
<circle cx="405.10" cy="238.10" r="1.0" fill="#000"/>
<polyline points="439.30,211.80 439.30,209.60 453.40,209.60 453.40,211.80" fill="none" stroke="#000" stroke-width="1.0" stroke-linejoin="round"/>
<circle cx="444.20" cy="205.00" r="1.05" fill="#000"/>
<circle cx="448.20" cy="205.00" r="1.05" fill="#000"/>
<polyline points="482.50,307.30 482.50,304.30 495.80,304.30 495.80,307.30" fill="none" stroke="#000" stroke-width="1.0" stroke-linejoin="round"/>
<rect x="387.00" y="194.00" width="3.60" height="3.60" fill="#000" stroke="none" stroke-width="0" />
<rect x="387.00" y="205.40" width="3.60" height="3.60" fill="#b5062f" stroke="none" stroke-width="0" />
<line x1="35.20" y1="365.40" x2="35.20" y2="454.50" stroke="#000" stroke-width="1.3" />
<line x1="31.70" y1="454.00" x2="35.20" y2="454.00" stroke="#000" stroke-width="1.3" />
<line x1="31.70" y1="425.47" x2="35.20" y2="425.47" stroke="#000" stroke-width="1.3" />
<line x1="31.70" y1="396.93" x2="35.20" y2="396.93" stroke="#000" stroke-width="1.3" />
<line x1="31.70" y1="368.40" x2="35.20" y2="368.40" stroke="#000" stroke-width="1.3" />
<line x1="34.70" y1="454.00" x2="107.80" y2="454.00" stroke="#000" stroke-width="1.3" />
<line x1="35.20" y1="454.00" x2="35.20" y2="457.00" stroke="#000" stroke-width="1.3" />
<line x1="70.80" y1="454.00" x2="70.80" y2="457.00" stroke="#000" stroke-width="1.3" />
<line x1="106.30" y1="454.00" x2="106.30" y2="457.00" stroke="#000" stroke-width="1.3" />
<line x1="52.35" y1="432.03" x2="52.35" y2="442.45" stroke="#000" stroke-width="1.2" />
<line x1="50.35" y1="432.03" x2="54.35" y2="432.03" stroke="#000" stroke-width="1.2" />
<rect x="45.30" y="441.45" width="14.10" height="12.55" fill="#000" stroke="none" stroke-width="0" />
<line x1="87.50" y1="377.25" x2="87.50" y2="401.64" stroke="#000" stroke-width="1.2" />
<line x1="85.50" y1="377.25" x2="89.50" y2="377.25" stroke="#000" stroke-width="1.2" />
<rect x="80.30" y="400.64" width="14.40" height="53.36" fill="#b5062f" stroke="none" stroke-width="0" />
<circle cx="86.20" cy="370.00" r="0.95" fill="#000"/>
<line x1="159.10" y1="381.10" x2="159.10" y2="454.60" stroke="#000" stroke-width="1.3" />
<line x1="155.60" y1="454.10" x2="159.10" y2="454.10" stroke="#000" stroke-width="1.3" />
<line x1="155.60" y1="440.10" x2="159.10" y2="440.10" stroke="#000" stroke-width="1.3" />
<line x1="155.60" y1="426.10" x2="159.10" y2="426.10" stroke="#000" stroke-width="1.3" />
<line x1="155.60" y1="412.10" x2="159.10" y2="412.10" stroke="#000" stroke-width="1.3" />
<line x1="155.60" y1="398.10" x2="159.10" y2="398.10" stroke="#000" stroke-width="1.3" />
<line x1="155.60" y1="384.10" x2="159.10" y2="384.10" stroke="#000" stroke-width="1.3" />
<line x1="158.60" y1="454.10" x2="219.50" y2="454.10" stroke="#000" stroke-width="1.3" />
<line x1="159.10" y1="454.10" x2="159.10" y2="457.10" stroke="#000" stroke-width="1.3" />
<line x1="179.10" y1="454.10" x2="179.10" y2="457.10" stroke="#000" stroke-width="1.3" />
<line x1="218.10" y1="454.10" x2="218.10" y2="457.10" stroke="#000" stroke-width="1.3" />
<line x1="178.90" y1="436.60" x2="218.10" y2="406.50" stroke="#000" stroke-width="1.6" />
<line x1="178.90" y1="438.00" x2="218.10" y2="388.65" stroke="#a8103a" stroke-width="1.6" />
<line x1="178.90" y1="433.00" x2="178.90" y2="440.20" stroke="#000" stroke-width="1" />
<line x1="177.20" y1="433.00" x2="180.60" y2="433.00" stroke="#000" stroke-width="1" />
<line x1="177.20" y1="440.20" x2="180.60" y2="440.20" stroke="#000" stroke-width="1" />
<rect x="177.4" y="435.10" width="3" height="3" fill="#000" transform="rotate(45 178.9 436.60)"/>
<line x1="218.10" y1="404.20" x2="218.10" y2="408.80" stroke="#000" stroke-width="1" />
<line x1="216.40" y1="404.20" x2="219.80" y2="404.20" stroke="#000" stroke-width="1" />
<line x1="216.40" y1="408.80" x2="219.80" y2="408.80" stroke="#000" stroke-width="1" />
<rect x="216.6" y="405.00" width="3" height="3" fill="#000" transform="rotate(45 218.1 406.50)"/>
<line x1="178.90" y1="435.40" x2="178.90" y2="440.60" stroke="#a8103a" stroke-width="1" />
<line x1="177.20" y1="435.40" x2="180.60" y2="435.40" stroke="#a8103a" stroke-width="1" />
<line x1="177.20" y1="440.60" x2="180.60" y2="440.60" stroke="#a8103a" stroke-width="1" />
<rect x="177.4" y="436.50" width="3" height="3" fill="#a8103a" transform="rotate(45 178.9 438.00)"/>
<line x1="218.10" y1="386.95" x2="218.10" y2="390.35" stroke="#a8103a" stroke-width="1" />
<line x1="216.40" y1="386.95" x2="219.80" y2="386.95" stroke="#a8103a" stroke-width="1" />
<line x1="216.40" y1="390.35" x2="219.80" y2="390.35" stroke="#a8103a" stroke-width="1" />
<rect x="216.6" y="387.15" width="3" height="3" fill="#a8103a" transform="rotate(45 218.1 388.65)"/>
<polyline points="223.2,392.7 227.9,392.7 227.9,405.5 223.2,405.5" fill="none" stroke="#000" stroke-width="0.9"/>
<circle cx="232.60" cy="396.50" r="1.05" fill="#000"/>
<circle cx="236.60" cy="396.50" r="1.05" fill="#000"/>
<line x1="195.70" y1="431.30" x2="211.60" y2="431.30" stroke="#000" stroke-width="1.5" />
<rect x="202" y="429.8" width="3" height="3" fill="#000" transform="rotate(45 203.5 431.3)"/>
<line x1="195.70" y1="443.50" x2="211.60" y2="443.50" stroke="#a8103a" stroke-width="1.5" />
<rect x="202" y="442" width="3" height="3" fill="#a8103a" transform="rotate(45 203.5 443.5)"/>
<line x1="282.80" y1="362.30" x2="282.80" y2="454.60" stroke="#000" stroke-width="1.3" />
<line x1="279.30" y1="454.10" x2="282.80" y2="454.10" stroke="#000" stroke-width="1.3" />
<line x1="279.30" y1="436.34" x2="282.80" y2="436.34" stroke="#000" stroke-width="1.3" />
<line x1="279.30" y1="418.58" x2="282.80" y2="418.58" stroke="#000" stroke-width="1.3" />
<line x1="279.30" y1="400.82" x2="282.80" y2="400.82" stroke="#000" stroke-width="1.3" />
<line x1="279.30" y1="383.06" x2="282.80" y2="383.06" stroke="#000" stroke-width="1.3" />
<line x1="279.30" y1="365.30" x2="282.80" y2="365.30" stroke="#000" stroke-width="1.3" />
<line x1="282.30" y1="454.10" x2="361.30" y2="454.10" stroke="#000" stroke-width="1.3" />
<line x1="282.80" y1="454.10" x2="282.80" y2="457.10" stroke="#000" stroke-width="1.3" />
<line x1="321.30" y1="454.10" x2="321.30" y2="457.10" stroke="#000" stroke-width="1.3" />
<line x1="360.00" y1="454.10" x2="360.00" y2="457.10" stroke="#000" stroke-width="1.3" />
<line x1="302.20" y1="406.15" x2="302.20" y2="427.22" stroke="#000" stroke-width="1.2" />
<line x1="300.20" y1="406.15" x2="304.20" y2="406.15" stroke="#000" stroke-width="1.2" />
<rect x="294.70" y="426.22" width="15.00" height="27.88" fill="#000" stroke="none" stroke-width="0" />
<line x1="340.60" y1="374.71" x2="340.60" y2="397.02" stroke="#000" stroke-width="1.2" />
<line x1="338.60" y1="374.71" x2="342.60" y2="374.71" stroke="#000" stroke-width="1.2" />
<rect x="333.10" y="396.02" width="15.00" height="58.08" fill="#b5062f" stroke="none" stroke-width="0" />
<circle cx="337.70" cy="367.00" r="1.05" fill="#000"/>
<circle cx="341.70" cy="367.00" r="1.05" fill="#000"/>
<line x1="399.80" y1="364.20" x2="399.80" y2="454.60" stroke="#000" stroke-width="1.3" />
<line x1="396.30" y1="454.10" x2="399.80" y2="454.10" stroke="#000" stroke-width="1.3" />
<line x1="396.30" y1="439.62" x2="399.80" y2="439.62" stroke="#000" stroke-width="1.3" />
<line x1="396.30" y1="425.13" x2="399.80" y2="425.13" stroke="#000" stroke-width="1.3" />
<line x1="396.30" y1="410.65" x2="399.80" y2="410.65" stroke="#000" stroke-width="1.3" />
<line x1="396.30" y1="396.17" x2="399.80" y2="396.17" stroke="#000" stroke-width="1.3" />
<line x1="396.30" y1="381.68" x2="399.80" y2="381.68" stroke="#000" stroke-width="1.3" />
<line x1="396.30" y1="367.20" x2="399.80" y2="367.20" stroke="#000" stroke-width="1.3" />
<line x1="399.30" y1="454.10" x2="508.30" y2="454.10" stroke="#000" stroke-width="1.3" />
<line x1="399.80" y1="454.10" x2="399.80" y2="457.10" stroke="#000" stroke-width="1.3" />
<line x1="454.10" y1="454.10" x2="454.10" y2="457.10" stroke="#000" stroke-width="1.3" />
<line x1="507.80" y1="454.10" x2="507.80" y2="457.10" stroke="#000" stroke-width="1.3" />
<rect x="411.30" y="425.13" width="15.50" height="28.97" fill="#000" stroke="none" stroke-width="0" />
<line x1="434.40" y1="399.79" x2="434.40" y2="402.38" stroke="#000" stroke-width="1.2" />
<line x1="432.80" y1="399.79" x2="436.00" y2="399.79" stroke="#000" stroke-width="1.2" />
<rect x="426.80" y="401.38" width="15.20" height="52.72" fill="#b5062f" stroke="none" stroke-width="0" />
<rect x="463.60" y="425.13" width="15.40" height="28.97" fill="#000" stroke="none" stroke-width="0" />
<line x1="486.65" y1="380.38" x2="486.65" y2="394.27" stroke="#000" stroke-width="1.2" />
<line x1="485.05" y1="380.38" x2="488.25" y2="380.38" stroke="#000" stroke-width="1.2" />
<rect x="479.00" y="393.27" width="15.30" height="60.83" fill="#b5062f" stroke="none" stroke-width="0" />
<polyline points="417.40,395.90 417.40,394.10 434.20,394.10 434.20,395.90" fill="none" stroke="#000" stroke-width="1.0" stroke-linejoin="round"/>
<circle cx="426.80" cy="388.60" r="1.0" fill="#000"/>
<polyline points="468.80,378.20 468.80,376.40 485.80,376.40 485.80,378.20" fill="none" stroke="#000" stroke-width="1.0" stroke-linejoin="round"/>
<circle cx="478.00" cy="371.80" r="1.0" fill="#000"/>
<rect x="404.20" y="364.30" width="3.80" height="3.80" fill="#000" stroke="none" stroke-width="0" />
<rect x="404.20" y="375.20" width="3.80" height="3.80" fill="#b5062f" stroke="none" stroke-width="0" />
<g filter="url(#noop)" stroke="#000" stroke-width="0.18">
<text x="10.30" y="17.00" font-size="12" text-anchor="middle" font-weight="bold" fill="#000" >A</text>
<text x="49.40" y="159.08" font-size="8" text-anchor="end" font-weight="normal" fill="#000" >0</text>
<text x="49.40" y="130.80" font-size="8" text-anchor="end" font-weight="normal" fill="#000" >2000</text>
<text x="49.40" y="102.53" font-size="8" text-anchor="end" font-weight="normal" fill="#000" >4000</text>
<text x="49.40" y="74.25" font-size="8" text-anchor="end" font-weight="normal" fill="#000" >6000</text>
<text x="49.40" y="45.98" font-size="8" text-anchor="end" font-weight="normal" fill="#000" >8000</text>
<text x="27.30" y="99.70" font-size="9.3" text-anchor="middle" font-weight="normal" fill="#000" transform="rotate(-90 27.30 99.70)" textLength="118.60" lengthAdjust="spacingAndGlyphs" >MSC absolute numbers/ Femur</text>
<text x="69.05" y="169.40" font-size="8.2" text-anchor="middle" font-weight="normal" fill="#000" textLength="24.30" lengthAdjust="spacingAndGlyphs" >WT B6</text>
<text x="96.10" y="169.40" font-size="8.2" text-anchor="middle" font-weight="normal" fill="#000" >tPA<tspan dy="-3" font-size="4.6">-/-</tspan></text>
<text x="122.50" y="169.40" font-size="8.2" text-anchor="middle" font-weight="normal" fill="#000" >Plg<tspan dy="-3" font-size="4.6">-/-</tspan></text>
<text x="150.60" y="169.40" font-size="8.2" text-anchor="middle" font-weight="normal" fill="#000" >PAI-1<tspan dy="-3" font-size="4.6">-/-</tspan></text>
<text x="185.90" y="17.00" font-size="12" text-anchor="middle" font-weight="bold" fill="#000" >B</text>
<text x="210.70" y="159.08" font-size="8" text-anchor="end" font-weight="normal" fill="#000" >0</text>
<text x="210.70" y="131.28" font-size="8" text-anchor="end" font-weight="normal" fill="#000" >2000</text>
<text x="210.70" y="103.48" font-size="8" text-anchor="end" font-weight="normal" fill="#000" >4000</text>
<text x="210.70" y="75.68" font-size="8" text-anchor="end" font-weight="normal" fill="#000" >6000</text>
<text x="210.70" y="47.88" font-size="8" text-anchor="end" font-weight="normal" fill="#000" >8000</text>
<text x="189.70" y="100.50" font-size="9.3" text-anchor="middle" font-weight="normal" fill="#000" transform="rotate(-90 189.70 100.50)" textLength="118.60" lengthAdjust="spacingAndGlyphs" >MSC absolute numbers/ Femur</text>
<text x="208.50" y="169.30" font-size="8" text-anchor="middle" font-weight="normal" fill="#000" >Days</text>
<text x="229.80" y="169.30" font-size="8" text-anchor="middle" font-weight="normal" fill="#000" >0</text>
<text x="254.50" y="169.30" font-size="8" text-anchor="middle" font-weight="normal" fill="#000" >1</text>
<text x="280.00" y="169.30" font-size="8" text-anchor="middle" font-weight="normal" fill="#000" >2</text>
<text x="304.60" y="169.30" font-size="8" text-anchor="middle" font-weight="normal" fill="#000" >3</text>
<text x="329.40" y="169.30" font-size="8" text-anchor="middle" font-weight="normal" fill="#000" >4</text>
<text x="212.50" y="29.60" font-size="8" text-anchor="start" font-weight="normal" fill="#000" textLength="57.00" lengthAdjust="spacingAndGlyphs" >tPA i.p. injection</text>
<text x="313.80" y="73.70" font-size="8.3" text-anchor="start" font-weight="normal" fill="#000" textLength="33.70" lengthAdjust="spacingAndGlyphs" >Sampling</text>
<text x="441.00" y="26.80" font-size="8.2" text-anchor="middle" font-weight="normal" fill="#000" textLength="20.50" lengthAdjust="spacingAndGlyphs" >Day 2</text>
<text x="407.10" y="38.70" font-size="8.2" text-anchor="middle" font-weight="normal" fill="#000" textLength="23.20" lengthAdjust="spacingAndGlyphs" >+ PBS</text>
<text x="472.00" y="38.70" font-size="8.2" text-anchor="middle" font-weight="normal" fill="#000" textLength="20.00" lengthAdjust="spacingAndGlyphs" >+ tPA</text>
<text x="372.40" y="60.10" font-size="10.3" text-anchor="middle" font-weight="normal" fill="#000" transform="rotate(-90 372.40 60.10)" textLength="26.40" lengthAdjust="spacingAndGlyphs" >Ter119</text>
<text x="441.00" y="101.30" font-size="10.3" text-anchor="middle" font-weight="normal" fill="#000" textLength="20.50" lengthAdjust="spacingAndGlyphs" >CD45</text>
<text x="372.40" y="130.30" font-size="10.3" text-anchor="middle" font-weight="normal" fill="#000" transform="rotate(-90 372.40 130.30)" textLength="23.50" lengthAdjust="spacingAndGlyphs" >Sca-1</text>
<text x="442.20" y="167.20" font-size="10" text-anchor="middle" font-weight="normal" fill="#000" textLength="33.00" lengthAdjust="spacingAndGlyphs" >PDGFR&#945;</text>
<text x="385.90" y="51.00" font-size="5.8" text-anchor="start" font-weight="normal" fill="#000" stroke="#000" stroke-width="0.2">0.30<tspan font-size="4.5" stroke="none" fill="#333">&#177;0.09%</tspan></text>
<text x="448.60" y="51.00" font-size="5.8" text-anchor="start" font-weight="normal" fill="#000" stroke="#000" stroke-width="0.2">0.79<tspan font-size="4.5" stroke="none" fill="#333">&#177;0.21%</tspan></text>
<text x="384.80" y="111.30" font-size="5.9" text-anchor="start" font-weight="normal" fill="#000" stroke="#000" stroke-width="0.12">0.02<tspan font-size="4.5" stroke="none" fill="#444">&#177;0.01%</tspan></text>
<text x="450.50" y="111.90" font-size="5.9" text-anchor="start" font-weight="normal" fill="#000" stroke="#000" stroke-width="0.12">0.06<tspan font-size="4.5" stroke="none" fill="#444">&#177;0.01%</tspan></text>
<text x="10.70" y="197.50" font-size="12" text-anchor="middle" font-weight="bold" fill="#000" >C</text>
<text x="48.50" y="207.80" font-size="7.6" text-anchor="middle" font-weight="normal" fill="#000" textLength="30.50" lengthAdjust="spacingAndGlyphs" >PDGFR&#945;</text>
<text x="115.10" y="207.80" font-size="7.6" text-anchor="middle" font-weight="normal" fill="#000" textLength="21.30" lengthAdjust="spacingAndGlyphs" >Nestin</text>
<text x="18.60" y="240.00" font-size="7.6" text-anchor="middle" font-weight="normal" fill="#000" transform="rotate(-90 18.60 240.00)" textLength="32.00" lengthAdjust="spacingAndGlyphs" >cont-MSC</text>
<text x="18.60" y="294.30" font-size="7.6" text-anchor="middle" font-weight="normal" fill="#000" transform="rotate(-90 18.60 294.30)" textLength="30.00" lengthAdjust="spacingAndGlyphs" >tPA-MSC</text>
<text x="154.50" y="197.00" font-size="12" text-anchor="middle" font-weight="bold" fill="#000" >D</text>
<text x="182.20" y="317.08" font-size="8" text-anchor="end" font-weight="normal" fill="#000" >0</text>
<text x="182.20" y="298.36" font-size="8" text-anchor="end" font-weight="normal" fill="#000" >0.1</text>
<text x="182.20" y="279.64" font-size="8" text-anchor="end" font-weight="normal" fill="#000" >0.2</text>
<text x="182.20" y="260.92" font-size="8" text-anchor="end" font-weight="normal" fill="#000" >0.3</text>
<text x="182.20" y="242.20" font-size="8" text-anchor="end" font-weight="normal" fill="#000" >0.4</text>
<text x="182.20" y="223.48" font-size="8" text-anchor="end" font-weight="normal" fill="#000" >0.5</text>
<text x="157.20" y="263.80" font-size="9" text-anchor="middle" font-weight="normal" fill="#000" transform="rotate(-90 157.20 263.80)" textLength="89.80" lengthAdjust="spacingAndGlyphs" >TER119- CD45- CD31-</text>
<text x="168.90" y="266.00" font-size="9" text-anchor="middle" font-weight="normal" fill="#000" transform="rotate(-90 168.90 266.00)" textLength="98.70" lengthAdjust="spacingAndGlyphs" >LepR+ MSCs % in the BM</text>
<text x="208.20" y="327.30" font-size="8" text-anchor="middle" font-weight="normal" fill="#000" textLength="22.50" lengthAdjust="spacingAndGlyphs" >+ PBS</text>
<text x="242.30" y="327.30" font-size="8" text-anchor="middle" font-weight="normal" fill="#000" textLength="19.30" lengthAdjust="spacingAndGlyphs" >+ tPA</text>
<text x="272.70" y="197.00" font-size="12" text-anchor="middle" font-weight="bold" fill="#000" >E</text>
<text x="275.20" y="254.60" font-size="9.6" text-anchor="middle" font-weight="normal" fill="#000" transform="rotate(-90 275.20 254.60)" textLength="40.70" lengthAdjust="spacingAndGlyphs" >Pyronin Y</text>
<text x="316.30" y="324.30" font-size="9.8" text-anchor="middle" font-weight="normal" fill="#000" textLength="50.00" lengthAdjust="spacingAndGlyphs" >Hoechst blue</text>
<text x="288.90" y="225.60" font-size="8.8" text-anchor="middle" font-weight="normal" fill="#000" transform="rotate(-90 288.90 225.60)" textLength="20.40" lengthAdjust="spacingAndGlyphs" >+PBS</text>
<text x="288.90" y="285.60" font-size="8.8" text-anchor="middle" font-weight="normal" fill="#000" transform="rotate(-90 288.90 285.60)" textLength="17.80" lengthAdjust="spacingAndGlyphs" >+tPA</text>
<text x="295.60" y="203.60" font-size="2.9" text-anchor="end" font-weight="normal" fill="#000" stroke="#000" stroke-width="0.1">250K</text>
<text x="295.60" y="212.24" font-size="2.9" text-anchor="end" font-weight="normal" fill="#000" stroke="#000" stroke-width="0.1">200K</text>
<text x="295.60" y="220.88" font-size="2.9" text-anchor="end" font-weight="normal" fill="#000" stroke="#000" stroke-width="0.1">150K</text>
<text x="295.60" y="229.52" font-size="2.9" text-anchor="end" font-weight="normal" fill="#000" stroke="#000" stroke-width="0.1">100K</text>
<text x="295.60" y="238.16" font-size="2.9" text-anchor="end" font-weight="normal" fill="#000" stroke="#000" stroke-width="0.1">50K</text>
<text x="295.60" y="246.80" font-size="2.9" text-anchor="end" font-weight="normal" fill="#000" stroke="#000" stroke-width="0.1">0</text>
<text x="306.80" y="250.00" font-size="2.9" text-anchor="middle" font-weight="normal" fill="#000" stroke="#000" stroke-width="0.1">50K</text>
<text x="317.10" y="250.00" font-size="2.9" text-anchor="middle" font-weight="normal" fill="#000" stroke="#000" stroke-width="0.1">100K</text>
<text x="326.90" y="250.00" font-size="2.9" text-anchor="middle" font-weight="normal" fill="#000" stroke="#000" stroke-width="0.1">150K</text>
<text x="335.80" y="250.00" font-size="2.9" text-anchor="middle" font-weight="normal" fill="#000" stroke="#000" stroke-width="0.1">200K</text>
<text x="344.30" y="250.00" font-size="2.9" text-anchor="middle" font-weight="normal" fill="#000" stroke="#000" stroke-width="0.1">250K</text>
<text x="311.40" y="205.70" font-size="4.9" text-anchor="start" font-weight="normal" fill="#111" textLength="31.80" lengthAdjust="spacingAndGlyphs" >G1= 40.1&#177;2.7%</text>
<text x="312.60" y="244.00" font-size="4.9" text-anchor="start" font-weight="normal" fill="#111" textLength="31.70" lengthAdjust="spacingAndGlyphs" >G0= 53.6&#177;3.26%</text>
<text x="296.20" y="263.80" font-size="2.9" text-anchor="end" font-weight="normal" fill="#000" stroke="#000" stroke-width="0.1">250K</text>
<text x="296.20" y="272.40" font-size="2.9" text-anchor="end" font-weight="normal" fill="#000" stroke="#000" stroke-width="0.1">200K</text>
<text x="296.20" y="281.00" font-size="2.9" text-anchor="end" font-weight="normal" fill="#000" stroke="#000" stroke-width="0.1">150K</text>
<text x="296.20" y="289.60" font-size="2.9" text-anchor="end" font-weight="normal" fill="#000" stroke="#000" stroke-width="0.1">100K</text>
<text x="296.20" y="298.20" font-size="2.9" text-anchor="end" font-weight="normal" fill="#000" stroke="#000" stroke-width="0.1">50K</text>
<text x="296.20" y="306.80" font-size="2.9" text-anchor="end" font-weight="normal" fill="#000" stroke="#000" stroke-width="0.1">0</text>
<text x="306.80" y="310.00" font-size="2.9" text-anchor="middle" font-weight="normal" fill="#000" stroke="#000" stroke-width="0.1">50K</text>
<text x="317.10" y="310.00" font-size="2.9" text-anchor="middle" font-weight="normal" fill="#000" stroke="#000" stroke-width="0.1">100K</text>
<text x="326.90" y="310.00" font-size="2.9" text-anchor="middle" font-weight="normal" fill="#000" stroke="#000" stroke-width="0.1">150K</text>
<text x="335.80" y="310.00" font-size="2.9" text-anchor="middle" font-weight="normal" fill="#000" stroke="#000" stroke-width="0.1">200K</text>
<text x="344.30" y="310.00" font-size="2.9" text-anchor="middle" font-weight="normal" fill="#000" stroke="#000" stroke-width="0.1">250K</text>
<text x="311.80" y="265.90" font-size="4.9" text-anchor="start" font-weight="normal" fill="#111" textLength="25.50" lengthAdjust="spacingAndGlyphs" >G1= 84&#177;2%</text>
<text x="313.00" y="304.00" font-size="4.9" text-anchor="start" font-weight="normal" fill="#111" textLength="30.50" lengthAdjust="spacingAndGlyphs" >G0= 22.1&#177;8.7%</text>
<text x="377.80" y="317.08" font-size="8" text-anchor="end" font-weight="normal" fill="#000" >0</text>
<text x="377.80" y="294.18" font-size="8" text-anchor="end" font-weight="normal" fill="#000" >20</text>
<text x="377.80" y="271.28" font-size="8" text-anchor="end" font-weight="normal" fill="#000" >40</text>
<text x="377.80" y="248.38" font-size="8" text-anchor="end" font-weight="normal" fill="#000" >60</text>
<text x="377.80" y="225.48" font-size="8" text-anchor="end" font-weight="normal" fill="#000" >80</text>
<text x="377.80" y="202.58" font-size="8" text-anchor="end" font-weight="normal" fill="#000" >100</text>
<text x="488.80" y="301.40" font-size="7.8" text-anchor="middle" font-weight="normal" fill="#000" >NS</text>
<text x="392.00" y="198.30" font-size="7.8" text-anchor="start" font-weight="normal" fill="#000" textLength="49.70" lengthAdjust="spacingAndGlyphs" >+vehicle Day 2</text>
<text x="392.00" y="209.20" font-size="7.8" text-anchor="start" font-weight="normal" fill="#000" textLength="38.00" lengthAdjust="spacingAndGlyphs" >+tPA Day 2</text>
<text x="360.80" y="256.00" font-size="10.1" text-anchor="middle" font-weight="normal" fill="#000" transform="rotate(-90 360.80 256.00)" textLength="79.50" lengthAdjust="spacingAndGlyphs" >%/ total MSC events</text>
<text x="404.80" y="326.80" font-size="8" text-anchor="middle" font-weight="normal" fill="#000" >G0</text>
<text x="447.10" y="326.80" font-size="8" text-anchor="middle" font-weight="normal" fill="#000" >G1</text>
<text x="490.00" y="326.80" font-size="8" text-anchor="middle" font-weight="normal" fill="#000" textLength="27.50" lengthAdjust="spacingAndGlyphs" >S/G2/M</text>
<text x="9.80" y="354.80" font-size="12" text-anchor="middle" font-weight="bold" fill="#000" >F</text>
<text x="28.40" y="456.88" font-size="8" text-anchor="end" font-weight="normal" fill="#000" >0</text>
<text x="28.40" y="428.35" font-size="8" text-anchor="end" font-weight="normal" fill="#000" >10</text>
<text x="28.40" y="399.81" font-size="8" text-anchor="end" font-weight="normal" fill="#000" >20</text>
<text x="28.40" y="371.28" font-size="8" text-anchor="end" font-weight="normal" fill="#000" >30</text>
<text x="15.20" y="410.20" font-size="9.6" text-anchor="middle" font-weight="normal" fill="#000" transform="rotate(-90 15.20 410.20)" textLength="41.50" lengthAdjust="spacingAndGlyphs" >BrdU+ (%)</text>
<text x="56.50" y="464.00" font-size="8" text-anchor="end" font-weight="normal" fill="#000" transform="rotate(-35 56.50 464.00)" textLength="35.00" lengthAdjust="spacingAndGlyphs" >cont-MSC</text>
<text x="91.80" y="464.30" font-size="8" text-anchor="end" font-weight="normal" fill="#000" transform="rotate(-35 91.80 464.30)" textLength="33.30" lengthAdjust="spacingAndGlyphs" >tPA-MSC</text>
<text x="121.60" y="354.90" font-size="12" text-anchor="middle" font-weight="bold" fill="#000" >G</text>
<text x="152.30" y="456.98" font-size="8" text-anchor="end" font-weight="normal" fill="#000" >0</text>
<text x="152.30" y="442.98" font-size="8" text-anchor="end" font-weight="normal" fill="#000" >0.2</text>
<text x="152.30" y="428.98" font-size="8" text-anchor="end" font-weight="normal" fill="#000" >0.4</text>
<text x="152.30" y="414.98" font-size="8" text-anchor="end" font-weight="normal" fill="#000" >0.6</text>
<text x="152.30" y="400.98" font-size="8" text-anchor="end" font-weight="normal" fill="#000" >0.8</text>
<text x="152.30" y="386.98" font-size="8" text-anchor="end" font-weight="normal" fill="#000" >1</text>
<text x="215.20" y="434.00" font-size="7.8" text-anchor="start" font-weight="normal" fill="#000" textLength="35.50" lengthAdjust="spacingAndGlyphs" >cont-MSC</text>
<text x="215.20" y="446.20" font-size="7.8" text-anchor="start" font-weight="normal" fill="#000" textLength="33.80" lengthAdjust="spacingAndGlyphs" >tPA-MSC</text>
<text x="124.30" y="417.70" font-size="9.6" text-anchor="middle" font-weight="normal" fill="#000" transform="rotate(-90 124.30 417.70)" textLength="62.50" lengthAdjust="spacingAndGlyphs" >Cell proliferation</text>
<text x="136.40" y="415.80" font-size="9.3" text-anchor="middle" font-weight="normal" fill="#000" transform="rotate(-90 136.40 415.80)" textLength="41.50" lengthAdjust="spacingAndGlyphs" >(A450nm)</text>
<text x="118.10" y="466.80" font-size="7.5" text-anchor="start" font-weight="normal" fill="#000" textLength="53.00" lengthAdjust="spacingAndGlyphs" >Days in culture</text>
<text x="179.10" y="466.80" font-size="7.5" text-anchor="middle" font-weight="normal" fill="#000" >0</text>
<text x="217.00" y="466.80" font-size="7.5" text-anchor="middle" font-weight="normal" fill="#000" >3</text>
<text x="265.80" y="354.80" font-size="12" text-anchor="middle" font-weight="bold" fill="#000" >H</text>
<text x="276.00" y="456.98" font-size="8" text-anchor="end" font-weight="normal" fill="#000" >0</text>
<text x="276.00" y="439.22" font-size="8" text-anchor="end" font-weight="normal" fill="#000" >1</text>
<text x="276.00" y="421.46" font-size="8" text-anchor="end" font-weight="normal" fill="#000" >2</text>
<text x="276.00" y="403.70" font-size="8" text-anchor="end" font-weight="normal" fill="#000" >3</text>
<text x="276.00" y="385.94" font-size="8" text-anchor="end" font-weight="normal" fill="#000" >4</text>
<text x="276.00" y="368.18" font-size="8" text-anchor="end" font-weight="normal" fill="#000" >5</text>
<text x="267.90" y="409.60" font-size="9.8" text-anchor="middle" font-weight="normal" fill="#000" transform="rotate(-90 267.90 409.60)" textLength="42.80" lengthAdjust="spacingAndGlyphs" >CFU-F (%)</text>
<text x="302.10" y="466.80" font-size="8" text-anchor="middle" font-weight="normal" fill="#000" textLength="35.70" lengthAdjust="spacingAndGlyphs" >cont-MSC</text>
<text x="340.00" y="466.80" font-size="8" text-anchor="middle" font-weight="normal" fill="#000" textLength="32.50" lengthAdjust="spacingAndGlyphs" >tPA-MSC</text>
<text x="373.10" y="354.80" font-size="12" text-anchor="middle" font-weight="bold" fill="#000" >I</text>
<text x="393.00" y="456.98" font-size="8" text-anchor="end" font-weight="normal" fill="#000" >0</text>
<text x="393.00" y="442.50" font-size="8" text-anchor="end" font-weight="normal" fill="#000" >0.5</text>
<text x="393.00" y="428.01" font-size="8" text-anchor="end" font-weight="normal" fill="#000" >1</text>
<text x="393.00" y="413.53" font-size="8" text-anchor="end" font-weight="normal" fill="#000" >1.5</text>
<text x="393.00" y="399.05" font-size="8" text-anchor="end" font-weight="normal" fill="#000" >2</text>
<text x="393.00" y="384.56" font-size="8" text-anchor="end" font-weight="normal" fill="#000" >2.5</text>
<text x="393.00" y="370.08" font-size="8" text-anchor="end" font-weight="normal" fill="#000" >3</text>
<text x="411.20" y="368.30" font-size="7.6" text-anchor="start" font-weight="normal" fill="#000" textLength="48.40" lengthAdjust="spacingAndGlyphs" >+vehicle Day 2</text>
<text x="411.20" y="379.60" font-size="7.6" text-anchor="start" font-weight="normal" fill="#000" textLength="36.50" lengthAdjust="spacingAndGlyphs" >+tPA Day 2</text>
<text x="378.90" y="401.00" font-size="9.6" text-anchor="middle" font-weight="normal" fill="#000" transform="rotate(-90 378.90 401.00)" textLength="87.00" lengthAdjust="spacingAndGlyphs" >Fold increase in MSC %</text>
<text x="426.50" y="466.80" font-size="8" text-anchor="middle" font-weight="normal" fill="#000" textLength="25.50" lengthAdjust="spacingAndGlyphs" >Muscle</text>
<text x="479.00" y="466.80" font-size="8" text-anchor="middle" font-weight="normal" fill="#000" >Fat</text>
</g>
<rect x="0.5" y="0.5" width="519" height="495" fill="none" stroke="#000" stroke-width="1"/>
</svg>
</body></html>
